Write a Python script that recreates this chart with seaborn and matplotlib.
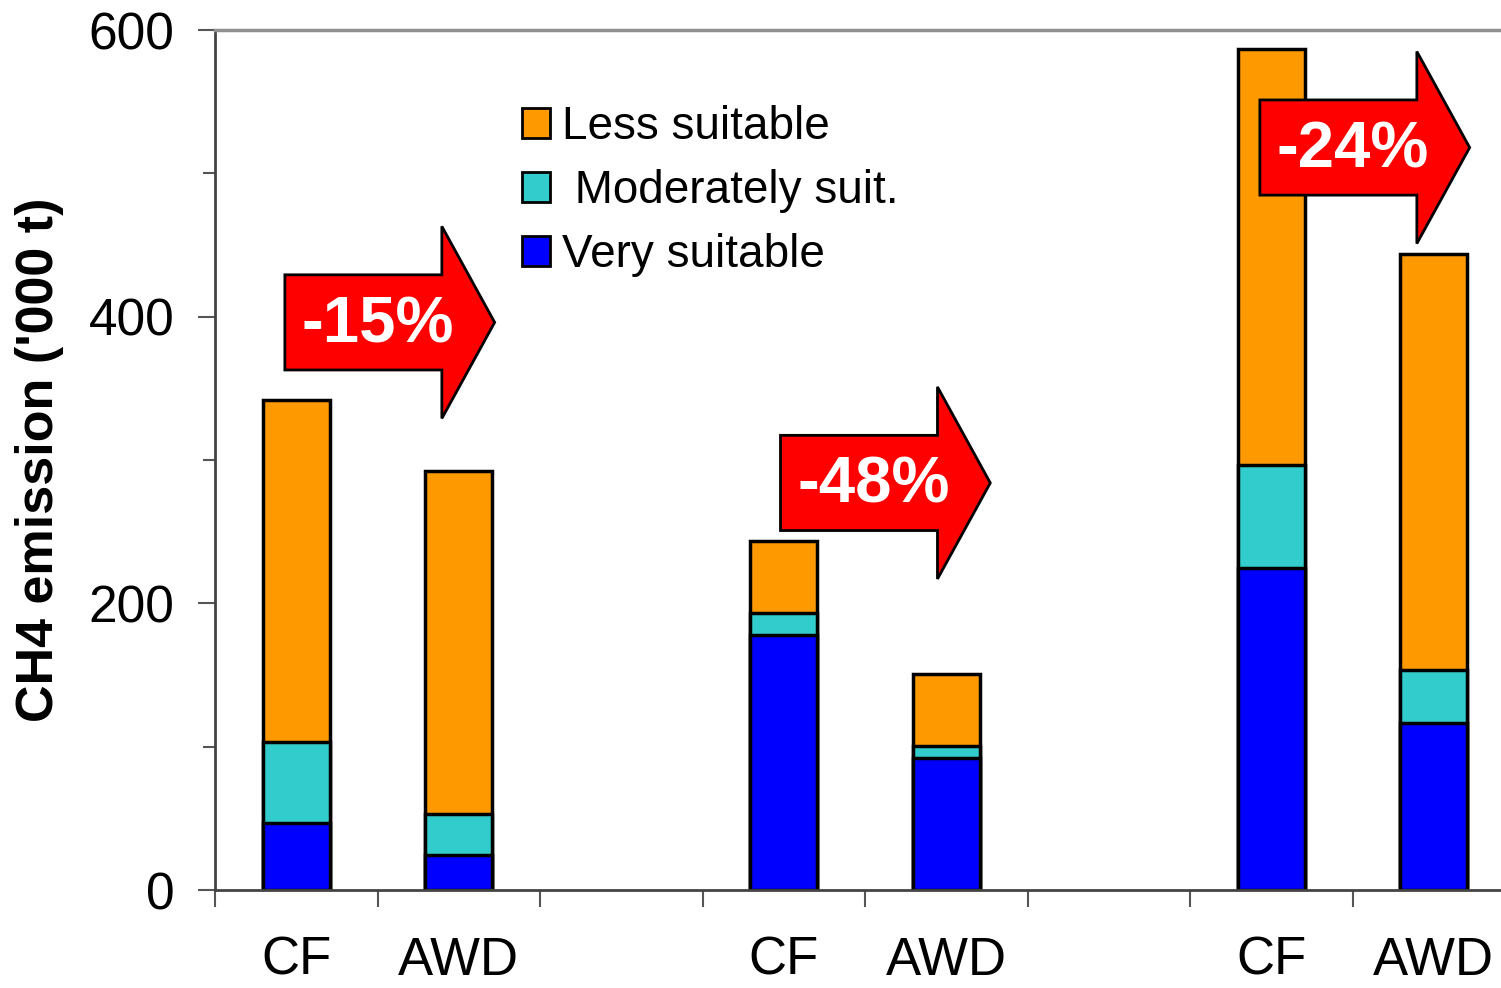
import numpy as np
import pandas as pd
import matplotlib
matplotlib.use("Agg")
import matplotlib.pyplot as plt
from matplotlib.patches import Patch, Polygon
import seaborn as sns

# Data ('000 t CH4)
slots = ["CF_a", "AWD_a", "gap_1", "CF_b", "AWD_b", "gap_2", "CF_c", "AWD_c"]
slot_labels = ["CF", "AWD", "", "CF", "AWD", "", "CF", "AWD"]
bar_slots = ["CF_a", "AWD_a", "CF_b", "AWD_b", "CF_c", "AWD_c"]
very = [46.7, 24.4, 177.9, 92.1, 224.7, 116.5]
moderate = [56.6, 28.6, 15.4, 8.4, 71.8, 37.0]
less = [238.6, 239.3, 50.2, 50.2, 290.2, 290.2]

# reduction arrows: label, left x (slot units), centre y
arrow_labels = ["-15%", "-48%", "-24%"]
arrow_x = [-0.07, 2.98, 5.93]
arrow_y = [396, 284, 518]

colors = {"Less suitable": "#FF9900", " Moderately suit.": "#33CCCC", "Very suitable": "#0000FF"}

sns.set_style("white")
plt.rcParams["font.family"] = ["Liberation Sans", "DejaVu Sans"]
plt.rcParams["text.color"] = "black"
plt.rcParams["axes.labelcolor"] = "black"
plt.rcParams["xtick.labelcolor"] = "black"
plt.rcParams["ytick.labelcolor"] = "black"

df = pd.DataFrame({"slot": bar_slots, "very": very, "moderate": moderate, "less": less})
df["mid"] = df["very"] + df["moderate"]
df["total"] = df["mid"] + df["less"]

fig = plt.figure(figsize=(15.01, 9.88), dpi=100)
ax = fig.add_axes([215 / 1501, 98 / 988, 1300 / 1501, 860 / 988])

bar_kw = dict(x="slot", order=slots, edgecolor="black", linewidth=2.5,
              width=0.41, errorbar=None, ax=ax)
sns.barplot(data=df, y="total", color=colors["Less suitable"], saturation=1, **bar_kw)
sns.barplot(data=df, y="mid", color=colors[" Moderately suit."], saturation=1, **bar_kw)
sns.barplot(data=df, y="very", color=colors["Very suitable"], saturation=1, **bar_kw)

ax.set_xlim(-0.5, 7.5)
ax.set_ylim(0, 600)

# x: tick marks at slot boundaries, labels at slot centres
ax.set_xticks(np.arange(-0.5, 8, 1))
ax.set_xticklabels([])
ax.set_xticks(np.arange(8), minor=True)
ax.set_xticklabels(slot_labels, minor=True)
ax.tick_params(axis="x", which="major", direction="out", length=12, width=1.5,
               color="#555555", bottom=True)
ax.tick_params(axis="x", which="minor", length=0, pad=33, labelsize=38)

ax.set_yticks([0, 200, 400, 600])
ax.set_yticks([100, 300, 500], minor=True)
ax.tick_params(axis="y", which="major", direction="out", length=12, width=1.5,
               color="#555555", labelsize=37, pad=17, left=True)
ax.tick_params(axis="y", which="minor", direction="out", length=9, width=1.5,
               color="#555555", left=True)

ax.set_xlabel("")
ax.set_ylabel("CH4 emission ('000 t)", fontsize=37.5, fontweight="bold")
ax.yaxis.set_label_coords(-0.116, 0.5)

for side in ["left", "bottom"]:
    ax.spines[side].set_color("#444444")
    ax.spines[side].set_linewidth(2)
ax.spines["top"].set_color("#909090")
ax.spines["top"].set_linewidth(2.5)
ax.spines["right"].set_visible(False)

# red reduction arrows
body_len, head_len, body_half, head_half = 0.966, 0.325, 33.2, 67.0
for lab, x0, yc in zip(arrow_labels, arrow_x, arrow_y):
    xb = x0 + body_len
    pts = [(x0, yc - body_half), (xb, yc - body_half), (xb, yc - head_half),
           (xb + head_len, yc), (xb, yc + head_half), (xb, yc + body_half),
           (x0, yc + body_half)]
    ax.add_patch(Polygon(pts, closed=True, facecolor="#FF0000", edgecolor="black",
                         linewidth=2, zorder=5, clip_on=False))
    ax.text(x0 + body_len / 2 + 0.09, yc - 2, lab, color="white", fontsize=47,
            fontweight="bold", ha="center", va="center", zorder=6)

handles = [Patch(facecolor=c, edgecolor="black", linewidth=2) for c in colors.values()]
ax.legend(handles, list(colors.keys()), loc="upper left", frameon=False,
          bbox_to_anchor=(522 / 1501, 1 - 105 / 988), bbox_transform=fig.transFigure,
          fontsize=33, handlelength=0.61, handleheight=0.61, handletextpad=0.26,
          labelspacing=0.44, borderpad=0, borderaxespad=0)

fig.savefig("out.png", dpi=100)
